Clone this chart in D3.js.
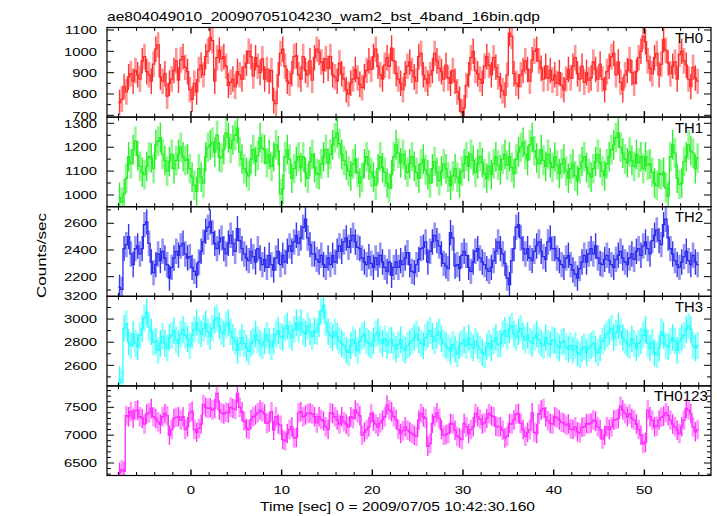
<!DOCTYPE html>
<html><head><meta charset="utf-8">
<script src="https://cdn.jsdelivr.net/npm/d3@7"></script>
<style>body{margin:0;background:#fff}text{font-family:"Liberation Sans",Arial,Helvetica,sans-serif;fill:#000}</style>
</head><body>
<svg id="c" width="717" height="516"></svg>
<script>
// ---- data (0.25 s bins starting at t = -8 s) ----
const binStart = -8, binWidth = 0.25;
const th0 = [
760,775,835,810,880,895,860,910, 890,870,955,975,905,890,860,940,
1010,1030,880,860,895,790,850,870, 910,955,865,960,975,925,905,820,
775,850,810,915,935,890,975,1000, 1065,1050,860,970,1005,965,975,930,
840,855,870,835,905,890,870,925, 945,1000,975,885,970,930,900,965,
870,915,860,910,770,755,890,990, 1010,930,860,850,895,975,980,890,
870,975,910,890,955,865,970,1010, 995,950,910,965,920,975,890,880,
860,945,895,870,820,800,850,870, 915,875,845,830,880,910,955,915,
975,1010,930,890,870,935,970,930, 1015,955,895,870,850,820,895,930,
950,910,880,860,975,990,890,870, 850,890,910,990,955,920,905,870,
935,875,850,910,860,810,775,715, 735,840,890,970,1000,910,895,870,
850,930,975,935,890,970,925,880, 840,815,795,890,1085,1070,895,850,
835,890,910,955,915,860,960,1000, 1010,955,920,870,930,875,910,865,
890,850,900,840,820,870,915,875, 930,970,895,870,930,855,900,865,
875,950,915,870,940,870,820,905, 930,975,990,890,950,855,820,890,
910,960,900,850,905,970,1000,1070, 1045,955,920,895,970,990,890,940,
1055,1005,945,895,930,950,870,985, 1000,955,935,870,835,925,875,860];
const th1 = [
990,970,1005,1070,1160,1130,1190,1225, 1165,1120,1095,1085,1120,1160,1155,1110,
1210,1225,1240,1170,1145,1100,1140,1170, 1110,1145,1170,1200,1160,1145,1150,1110,
1075,1040,1015,1110,1075,1050,1160,1200, 1210,1220,1180,1250,1160,1155,1190,1260,
1240,1195,1230,1250,1280,1180,1150,1110, 1095,1080,1150,1190,1140,1165,1240,1195,
1190,1135,1170,1120,1160,1210,1185,1005, 1025,1160,1190,1150,1070,1110,1140,1160,
1115,1160,1095,1070,1140,1170,1115,1090, 1085,1130,1160,1190,1135,1170,1210,1240,
1260,1215,1170,1145,1125,1100,1080,1130, 1150,1095,1050,1075,1130,1160,1125,1095,
1075,1040,1110,1160,1115,1095,1050,1030, 1085,1160,1210,1175,1135,1170,1125,1095,
1130,1160,1120,1095,1070,1130,1150,1105, 1085,1050,1110,1140,1095,1060,1100,1130,
1110,1075,1040,1080,1110,1075,1050,1100, 1130,1160,1120,1170,1145,1095,1130,1160,
1135,1090,1070,1120,1085,1130,1160,1125, 1105,1150,1170,1125,1160,1115,1090,1150,
1180,1200,1220,1170,1145,1210,1240,1185, 1155,1130,1190,1145,1120,1170,1135,1115,
1160,1125,1090,1130,1150,1100,1070,1110, 1130,1080,1060,1110,1140,1160,1115,1090,
1075,1110,1140,1170,1135,1100,1080,1130, 1160,1190,1210,1240,1260,1200,1175,1150,
1135,1180,1145,1120,1170,1135,1160,1110, 1160,1125,1130,1095,1050,1040,1090,1085,
1095,1030,995,1160,1210,1175,1070,1045, 1050,1140,1160,1210,1185,1175,1110,1155];
const th2 = [
2120,2105,2410,2440,2500,2370,2290,2410, 2430,2370,2410,2590,2610,2450,2310,2230,
2290,2370,2320,2390,2340,2290,2190,2270, 2340,2390,2360,2430,2450,2370,2340,2350,
2270,2240,2210,2310,2390,2460,2540,2570, 2610,2530,2450,2410,2460,2490,2410,2370,
2450,2510,2450,2390,2560,2470,2410,2370, 2340,2320,2390,2350,2310,2410,2340,2290,
2330,2270,2360,2290,2250,2340,2390,2290, 2360,2310,2390,2430,2390,2460,2510,2450,
2490,2570,2630,2490,2440,2370,2370,2330, 2310,2360,2290,2270,2340,2290,2360,2310,
2390,2430,2390,2460,2490,2420,2470,2510, 2460,2420,2410,2340,2310,2290,2350,2300,
2270,2340,2290,2360,2310,2270,2240,2310, 2210,2270,2310,2270,2320,2290,2340,2380,
2290,2240,2230,2290,2330,2410,2420,2460, 2310,2390,2460,2510,2470,2430,2370,2300,
2280,2260,2530,2490,2280,2290,2260,2360, 2390,2360,2270,2240,2310,2390,2410,2340,
2310,2290,2260,2240,2270,2320,2390,2460, 2410,2370,2300,2190,2140,2320,2410,2570,
2590,2490,2410,2370,2410,2340,2320,2390, 2430,2460,2390,2350,2330,2460,2490,2410,
2410,2340,2320,2290,2270,2340,2360,2290, 2250,2220,2190,2260,2310,2360,2310,2370,
2410,2370,2430,2340,2300,2290,2330,2360, 2320,2290,2270,2330,2360,2390,2340,2310,
2290,2340,2370,2330,2390,2410,2360,2430, 2460,2410,2370,2470,2510,2550,2470,2440,
2590,2630,2490,2410,2370,2320,2290,2270, 2310,2350,2390,2320,2290,2360,2310,2290];
const th3 = [
2480,2450,2920,2960,2800,2770,2870,2790, 2760,2860,2920,3010,3060,2930,2890,2800,
2810,2730,2790,2850,2790,2750,2840,2860, 2900,2820,2790,2870,2910,2860,2830,2770,
2860,2910,2970,2900,2870,2920,2960,2890, 2850,2920,2990,3010,2940,2890,2870,2950,
2970,2890,2840,2810,2730,2790,2840,2790, 2750,2720,2790,2810,2870,2820,2790,2770,
2810,2860,2810,2760,2810,2870,2900,2850, 2840,2920,2940,2870,2840,2910,2970,2910,
2970,2890,2870,2940,2890,2850,2900,2890, 2960,3070,3120,2970,2890,2860,2840,2890,
2850,2810,2790,2770,2730,2710,2770,2820, 2790,2730,2810,2850,2870,2810,2790,2770,
2810,2870,2890,2820,2790,2830,2770,2810, 2820,2770,2740,2780,2820,2750,2730,2770,
2790,2810,2840,2870,2820,2790,2770,2840, 2870,2900,2850,2810,2860,2890,2830,2790,
2770,2750,2720,2780,2740,2700,2770,2790, 2820,2770,2840,2780,2750,2810,2770,2740,
2710,2690,2760,2790,2750,2810,2840,2780, 2790,2870,2900,2850,2910,2940,2870,2840,
2890,2920,2850,2820,2860,2810,2790,2840, 2870,2820,2790,2770,2840,2790,2780,2820,
2810,2770,2750,2800,2810,2760,2740,2770, 2730,2770,2710,2690,2740,2760,2710,2750,
2770,2790,2740,2710,2750,2810,2840,2870, 2890,2920,2840,2880,2940,2890,2840,2810,
2790,2770,2830,2790,2750,2790,2810,2860, 2910,2790,2750,2800,2710,2690,2750,2890,
2860,2770,2760,2810,2840,2810,2730,2810, 2840,2860,2910,2940,2910,2770,2750,2770];
const th0123 = [
6330,6380,6350,7350,7330,7420,7300,7440, 7450,7330,7300,7200,7380,7400,7480,7330,
7300,7240,7200,7330,7390,7350,7000,7100, 7300,7320,7330,7270,7330,7100,7150,7400,
7430,7100,7050,7120,7200,7550,7500,7480, 7490,7450,7480,7750,7450,7400,7380,7410,
7400,7500,7480,7460,7750,7500,7420,7250, 7120,7100,7280,7330,7360,7400,7450,7420,
7380,7210,7240,7420,7090,7330,7200,7180, 6920,6900,7030,7100,7150,6950,6960,7400,
7420,7330,7360,7390,7400,7380,7330,7220, 7330,7280,7250,7150,7100,7400,7390,7330,
7270,7200,7330,7240,7200,7150,7330,7300, 7450,7400,7350,7000,7050,7100,7150,7390,
7250,7200,7150,7220,7270,7330,7540,7450, 7420,7330,7280,7100,7030,7080,7150,7090,
7060,7030,7000,6980,7270,7390,7330,7300, 6800,6850,7210,7330,7400,7300,7100,7000,
7010,7030,7210,7200,7090,6980,6950,6920, 7210,7150,7030,7100,7150,7390,7330,7290,
7200,7220,7300,7390,7350,7330,7160,7150, 7150,7090,6950,6980,7210,7200,7270,7380,
7390,7210,7100,6980,7050,7100,7400,7050, 7030,7380,7450,7480,7330,7260,7210,7200,
7330,7310,7270,7230,7220,7180,7200,7110, 7100,7150,7060,7040,7140,7150,7210,7200,
7220,7270,7250,7150,7100,6930,7000,7150, 7100,7150,7270,7280,7300,7520,7450,7390,
7330,7380,7300,7270,7200,7100,7000,6850, 6870,7450,7330,7270,7150,7160,7270,7320,
7340,7400,7350,7270,7200,7150,7090,7030, 7150,7270,7480,7450,7390,7150,7060,7100];

const series = [th0, th1, th2, th3, th0123];
const panelNames = ["TH0", "TH1", "TH2", "TH3", "TH0123"];
const errSizes = [60, 62, 95, 115, 175];           // typical 1-sigma error (counts/sec)
const yDomains = [[691.6, 1111.7], [951, 1326], [2053, 2724], [2422, 3197], [6276, 7884]];
const yTickLabels = [[700, 800, 900, 1000, 1100], [1000, 1100, 1200, 1300], [2200, 2400, 2600], [2600, 2800, 3000, 3200], [6500, 7000, 7500]];
const yMinorStep = [50, 50, 100, 100, 100];
const xTickLabels = [0, 10, 20, 30, 40, 50];
const xDomain = [-9.26, 57.35];
const colors = ["#ff2a2a", "#22f022", "#2a2aee", "#2affff", "#ff2aff"];

// ---- layout ----
const L = 107, R = 711, TOP = 27.5, BOT = 475.5;
const ph = (BOT - TOP) / 5;
const svg = d3.select("#c");
const x = d3.scaleLinear().domain(xDomain).range([L, R]);

function sText(g, px, py, str, size, sx, anchor) {
  return g.append("text").attr("transform", `translate(${px},${py}) scale(${sx},1)`)
    .attr("text-anchor", anchor).attr("font-size", size).text(str);
}

const defs = svg.append("defs");
series.forEach((data, p) => {
  const y0 = TOP + p * ph, y1 = y0 + ph;
  const y = d3.scaleLinear().domain(yDomains[p]).range([y1, y0]);
  defs.append("clipPath").attr("id", "cl" + p).append("rect")
    .attr("x", L).attr("y", y0).attr("width", R - L).attr("height", ph);
  const g = svg.append("g").attr("clip-path", `url(#cl${p})`);
  const e = errSizes[p];
  data.forEach((v, i) => {
    const t = binStart + i * binWidth;
    const xc = x(t + binWidth / 2);
    const light = i % 2 === 1;
    g.append("line").attr("x1", xc).attr("x2", xc)
      .attr("y1", y(v - e)).attr("y2", y(v + e))
      .attr("stroke", colors[p]).attr("stroke-width", light ? 2.6 : 1.4)
      .attr("stroke-opacity", light ? 0.5 : 0.95);
  });
  const pts = data.map((v, i) => [binStart + i * binWidth, v]);
  pts.push([binStart + data.length * binWidth, data[data.length - 1]]);
  g.append("path").attr("d", d3.line().x(d => x(d[0])).y(d => y(d[1])).curve(d3.curveStepAfter)(pts))
    .attr("fill", "none").attr("stroke", colors[p]).attr("stroke-width", 1.3);

  // frame
  const ax = svg.append("g").attr("stroke", "#000").attr("fill", "none");
  ax.append("rect").attr("x", L).attr("y", y0).attr("width", R - L).attr("height", ph).attr("stroke-width", 1.2);
  // x ticks (top & bottom of panel, inward)
  d3.range(-8, 57, 2).forEach(tv => {
    const major = tv % 10 === 0;
    const len = major ? 6 : 3.5;
    const xx = x(tv);
    ax.append("line").attr("x1", xx).attr("x2", xx).attr("y1", y1).attr("y2", y1 - len).attr("stroke-width", major ? 1.4 : 1);
    ax.append("line").attr("x1", xx).attr("x2", xx).attr("y1", y0).attr("y2", y0 + len).attr("stroke-width", major ? 1.4 : 1);
  });
  // y ticks
  const st = yMinorStep[p];
  const labs = yTickLabels[p];
  const majorStep = labs[1] - labs[0];
  d3.range(Math.ceil(yDomains[p][0] / st) * st, yDomains[p][1], st).forEach(v => {
    const major = Math.abs(v % majorStep) < 1e-6;
    const len = major ? 7 : 4;
    const yy = y(v);
    ax.append("line").attr("x1", L).attr("x2", L + len).attr("y1", yy).attr("y2", yy).attr("stroke-width", 1);
    ax.append("line").attr("x1", R).attr("x2", R - len).attr("y1", yy).attr("y2", yy).attr("stroke-width", 1);
  });
  labs.forEach(v => {
    sText(svg, 97, y(v) + 4.2, String(v), 11.6, 1.28, "end");
  });
  // panel name
  svg.append("text").attr("x", panelNames[p].length > 3 ? 654 : 675).attr("y", y0 + 15.5)
    .attr("font-size", 15.4).attr("textLength", panelNames[p].length > 3 ? 54 : 28)
    .attr("lengthAdjust", "spacingAndGlyphs").text(panelNames[p]);
});

xTickLabels.forEach(v => sText(svg, x(v), 494, String(v), 11.6, 1.28, "middle"));

svg.append("text").attr("x", 107).attr("y", 20.5).attr("font-size", 12.6)
  .attr("textLength", 433).attr("lengthAdjust", "spacingAndGlyphs")
  .text("ae804049010_20090705104230_wam2_bst_4band_16bin.qdp");
svg.append("text").attr("x", 260).attr("y", 510.5).attr("font-size", 12.6)
  .attr("textLength", 275).attr("lengthAdjust", "spacingAndGlyphs")
  .text("Time [sec] 0 = 2009/07/05 10:42:30.160");
svg.append("text").attr("transform", "translate(46,255.5) rotate(-90)")
  .attr("text-anchor", "middle").attr("font-size", 12.6)
  .attr("textLength", 85).attr("lengthAdjust", "spacingAndGlyphs")
  .text("Counts/sec");
</script>
</body></html>
